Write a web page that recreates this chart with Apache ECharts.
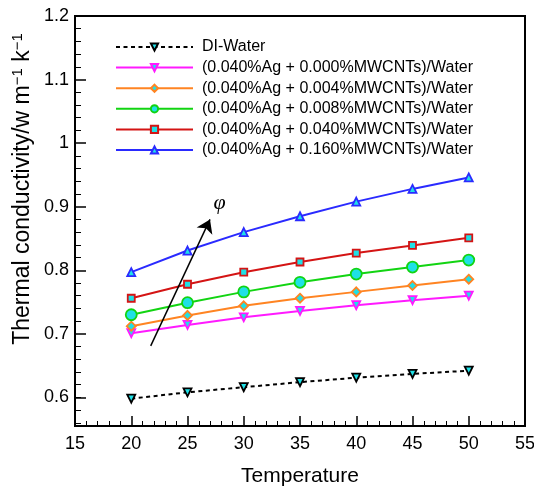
<!DOCTYPE html>
<html>
<head>
<meta charset="utf-8">
<script src="https://cdn.jsdelivr.net/npm/echarts@6/dist/echarts.min.js"></script>
<style>
  html, body { margin: 0; padding: 0; background: #fff; }
  #chart { width: 534px; height: 488px; }
</style>
</head>
<body>
<div id="chart"></div>
<script>
// Temperature (°C) at which conductivity was measured
const temperatures = [20, 25, 30, 35, 40, 45, 50];

// Thermal conductivity (W m^-1 K^-1) per fluid
const diWater   = [0.598, 0.608, 0.616, 0.624, 0.631, 0.637, 0.642];
const mwcnt000  = [0.701, 0.714, 0.726, 0.736, 0.745, 0.753, 0.760];
const mwcnt004  = [0.712, 0.729, 0.744, 0.756, 0.766, 0.776, 0.786];
const mwcnt008  = [0.730, 0.749, 0.766, 0.781, 0.794, 0.805, 0.816];
const mwcnt040  = [0.756, 0.778, 0.797, 0.813, 0.827, 0.839, 0.851];
const mwcnt160  = [0.797, 0.831, 0.860, 0.885, 0.908, 0.928, 0.946];

const seriesNames = [
  'DI-Water',
  '(0.040%Ag + 0.000%MWCNTs)/Water',
  '(0.040%Ag + 0.004%MWCNTs)/Water',
  '(0.040%Ag + 0.008%MWCNTs)/Water',
  '(0.040%Ag + 0.040%MWCNTs)/Water',
  '(0.040%Ag + 0.160%MWCNTs)/Water'
];

// Direction arrow for increasing volume fraction φ: [temperature, conductivity]
const phiArrow = [[21.73, 0.681], [27.0, 0.880]];

const FONT = 'Liberation Sans, Arial, Helvetica, sans-serif';
const FILL = '#1fe0e6';

const pair = (ys) => temperatures.map((t, i) => [t, ys[i]]);

function curve(name, ys, color, symbol, size, extra) {
  return Object.assign({
    name: name,
    type: 'line',
    xAxisIndex: 0,
    yAxisIndex: 0,
    data: pair(ys),
    symbol: symbol,
    symbolSize: size,
    showSymbol: true,
    lineStyle: { color: color, width: 2 },
    itemStyle: { color: FILL, borderColor: color, borderWidth: 1.8 },
    emphasis: { disabled: true },
    z: 3
  }, extra || {});
}

// main plot rectangle
const L = 75, R = 9, T = 16, B = 62;
const yMin = 0.555, yMax = 1.2;
const plotH = 488 - T - B;
const pxPerUnit = plotH / (yMax - yMin);
const majorH = (yMax - 0.6) * pxPerUnit;
const lowH = (0.6 - 0.56) * pxPerUnit;

const hiddenX = (g) => ({ type: 'value', gridIndex: g, min: 15, max: 55, show: false });
const gridBox = (extra) => Object.assign({ left: L, right: R, top: T, outerBoundsMode: 'none', containLabel: false }, extra);

const option = {
  animation: false,
  textStyle: { fontFamily: FONT },
  grid: [
    gridBox({ bottom: B, show: true, borderColor: '#000', borderWidth: 2, backgroundColor: 'transparent' }),
    gridBox({ height: majorH }),
    gridBox({ top: T + majorH, height: lowH })
  ],
  legend: {
    data: seriesNames,
    orient: 'vertical',
    left: 115,
    top: 39,
    padding: 0,
    itemWidth: 77,
    itemHeight: 9,
    itemGap: 4.6,
    textStyle: { fontSize: 16, color: '#000', fontFamily: FONT, padding: [0, 0, 0, 4] },
    selectedMode: false
  },
  xAxis: [
    {
      type: 'value', gridIndex: 0, min: 15, max: 55, interval: 5,
      name: 'Temperature', nameLocation: 'middle', nameGap: 40,
      nameTextStyle: { fontSize: 21, color: '#000', fontFamily: FONT },
      axisLine: { lineStyle: { color: '#000', width: 2 } },
      axisTick: { inside: true, length: 10, lineStyle: { color: '#000', width: 1.5 } },
      minorTick: { show: true, splitNumber: 5, length: 5, lineStyle: { color: '#000', width: 1 } },
      axisLabel: { fontSize: 18, color: '#000', margin: 9, fontFamily: FONT },
      splitLine: { show: false }
    },
    hiddenX(1),
    hiddenX(2)
  ],
  yAxis: [
    {
      type: 'value', gridIndex: 0, min: yMin, max: yMax,
      axisLine: { show: true, lineStyle: { color: '#000', width: 2 } },
      axisTick: { show: false },
      axisLabel: { show: false },
      splitLine: { show: false },
      name: 'Thermal conductivity/w m{sup|−1} k{sup|−1}',
      nameLocation: 'middle', nameGap: 40,
      nameTextStyle: {
        fontSize: 23, color: '#000', fontFamily: FONT, padding: [0, 0, 0, 64],
        lineHeight: 25,
        rich: {
          sup: { fontSize: 15, color: '#000', fontFamily: FONT, verticalAlign: 'top', lineHeight: 25 }
        }
      }
    },
    {
      type: 'value', gridIndex: 1, min: 0.6, max: 1.2, interval: 0.1,
      axisLine: { show: false },
      axisTick: { show: true, inside: true, length: 11, lineStyle: { color: '#000', width: 1.5 } },
      minorTick: { show: true, splitNumber: 5, length: 6, lineStyle: { color: '#000', width: 1 } },
      axisLabel: { fontSize: 18, color: '#000', margin: 6, fontFamily: FONT },
      splitLine: { show: false }
    },
    {
      type: 'value', gridIndex: 2, min: 0.56, max: 0.6, interval: 0.02,
      axisLine: { show: false },
      axisTick: { show: true, inside: true, length: 6, lineStyle: { color: '#000', width: 1 } },
      axisLabel: { show: false },
      splitLine: { show: false }
    }
  ],
  series: [
    curve(seriesNames[0], diWater, '#000', 'triangle', 8, {
      symbolRotate: 180,
      lineStyle: { color: '#000', width: 2, type: [4, 3.5] },
      itemStyle: { color: FILL, borderColor: '#000', borderWidth: 1.8 },
      markLine: {
        silent: true,
        symbol: ['none', 'arrow'],
        symbolSize: 13,
        lineStyle: { color: '#000', width: 1.5, type: 'solid' },
        label: {
          show: true, position: 'end', formatter: 'φ', distance: 6,
          fontSize: 22, fontStyle: 'italic', color: '#000',
          fontFamily: 'Liberation Serif, DejaVu Serif, serif',
          padding: [0, 0, 0, 14]
        },
        emphasis: { disabled: true },
        data: [[{ coord: phiArrow[0] }, { coord: phiArrow[1] }]]
      }
    }),
    curve(seriesNames[1], mwcnt000, '#ff1aff', 'triangle', 8, { symbolRotate: 180 }),
    curve(seriesNames[2], mwcnt004, '#ff8422', 'diamond', 9),
    curve(seriesNames[3], mwcnt008, '#12d412', 'circle', 11),
    curve(seriesNames[4], mwcnt040, '#d41414', 'rect', 7),
    curve(seriesNames[5], mwcnt160, '#2a2aff', 'triangle', 8)
  ]
};

const chart = echarts.init(document.getElementById('chart'), null, { renderer: 'canvas' });
chart.setOption(option);
</script>
</body>
</html>
